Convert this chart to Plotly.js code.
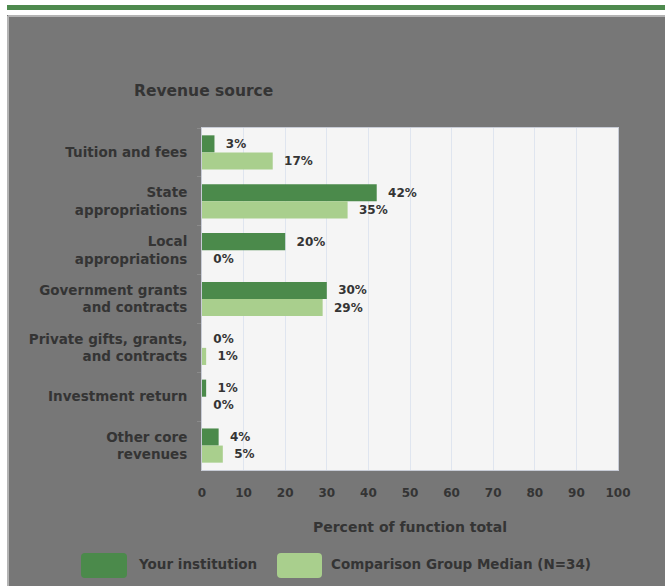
<!DOCTYPE html>
<html>
<head>
<meta charset="utf-8">
<script src="https://cdn.plot.ly/plotly-3.0.1.min.js"></script>
<style>html,body{margin:0;padding:0;background:#fff;}#chart{width:665px;height:586px;}</style>
</head>
<body>
<div id="chart"></div>
<script>
// ---- data ----
const categories = [
  "Tuition and fees",
  "State<br>appropriations",
  "Local<br>appropriations",
  "Government grants<br>and contracts",
  "Private gifts, grants,<br>and contracts",
  "Investment return",
  "Other core<br>revenues"
];
const yourInstitution = [3, 42, 20, 30, 0, 1, 4];
const comparisonMedian = [17, 35, 0, 29, 1, 0, 5];
const seriesNames = ["Your institution", "Comparison Group Median (N=34)"];
const xTickVals = [0, 10, 20, 30, 40, 50, 60, 70, 80, 90, 100];
const chartTitle = "Revenue source";
const xAxisTitle = "Percent of function total";

// ---- layout geometry ----
const W = 665, H = 586, L = 202, R = 47, T = 128, B = 116;
const PW = W - L - R, PH = H - T - B;
const px = v => (v - L) / PW;
const py = v => (H - B - v) / PH;

const DARK = "#4b8a4b", LIGHT = "#a9cf8d", TXT = "#343434";
const FONT = "DejaVu Sans";

const mk = (vals, name, color) => ({
  type: "bar", orientation: "h",
  x: vals, y: categories, name: name,
  marker: {color: color},
  text: vals.map(v => "  " + v + "%"),
  textposition: "outside",
  textfont: {family: FONT, size: 12, color: TXT, weight: "bold"},
  constraintext: "none",
  cliponaxis: false,
  hoverinfo: "x+name"
});

const data = [
  mk(yourInstitution, seriesNames[0], DARK),
  mk(comparisonMedian, seriesNames[1], LIGHT)
];

function roundRect(x0, y0, x1, y1, r) {
  const X = v => px(v), Y = v => py(v);
  return `M ${X(x0 + r)},${Y(y0)} L ${X(x1 - r)},${Y(y0)} Q ${X(x1)},${Y(y0)} ${X(x1)},${Y(y0 + r)} ` +
         `L ${X(x1)},${Y(y1 - r)} Q ${X(x1)},${Y(y1)} ${X(x1 - r)},${Y(y1)} L ${X(x0 + r)},${Y(y1)} ` +
         `Q ${X(x0)},${Y(y1)} ${X(x0)},${Y(y1 - r)} L ${X(x0)},${Y(y0 + r)} Q ${X(x0)},${Y(y0)} ${X(x0 + r)},${Y(y0)} Z`;
}

const shapes = [
  {type: "rect", xref: "paper", yref: "paper", x0: px(0), x1: px(7), y0: py(0), y1: py(H), fillcolor: "#ffffff", line: {width: 0}, layer: "below"},
  {type: "rect", xref: "paper", yref: "paper", x0: px(0), x1: px(W), y0: py(0), y1: py(15), fillcolor: "#ffffff", line: {width: 0}, layer: "below"},
  {type: "rect", xref: "paper", yref: "paper", x0: px(7), x1: px(W), y0: py(5), y1: py(10), fillcolor: "#4e8a4e", line: {width: 0}, layer: "below"},
  {type: "line", xref: "paper", yref: "paper", x0: px(8), x1: px(W), y0: py(16), y1: py(16), line: {color: "#b4b4b4", width: 2}, layer: "below"},
  {type: "line", xref: "paper", yref: "paper", x0: px(8), x1: px(8), y0: py(16), y1: py(H), line: {color: "#b4b4b4", width: 2}, layer: "below"},
  // legend swatches
  {type: "path", xref: "paper", yref: "paper", layer: "above", fillcolor: DARK, line: {width: 0},
   path: roundRect(81, 553, 127, 578, 4)},
  {type: "path", xref: "paper", yref: "paper", layer: "above", fillcolor: LIGHT, line: {width: 0},
   path: roundRect(277, 553, 322, 578, 4)}
];

const annotations = [
  {xref: "paper", yref: "paper", x: px(132), y: py(91), xanchor: "left", yanchor: "middle",
   text: chartTitle, showarrow: false, font: {family: FONT, size: 15.5, color: TXT, weight: "bold"}},
  {xref: "paper", yref: "paper", x: px(136), y: py(564), xanchor: "left", yanchor: "middle",
   text: seriesNames[0], showarrow: false, font: {family: FONT, size: 13.5, color: TXT, weight: "bold"}},
  {xref: "paper", yref: "paper", x: px(329), y: py(564), xanchor: "left", yanchor: "middle",
   text: seriesNames[1], showarrow: false, font: {family: FONT, size: 13.5, color: TXT, weight: "bold"}}
];

const layout = {
  width: W, height: H,
  margin: {l: L, r: R, t: T, b: B, pad: 0},
  paper_bgcolor: "#777777",
  plot_bgcolor: "#f5f5f5",
  barmode: "group", bargap: 0.3, bargroupgap: 0,
  showlegend: false,
  font: {family: FONT, color: TXT},
  xaxis: {
    range: [0, 100], tickvals: xTickVals, fixedrange: true,
    showgrid: true, gridcolor: "#dfe5ef", gridwidth: 1,
    zeroline: false, showline: true, linecolor: "#c8ccd6", linewidth: 1, mirror: true,
    ticks: "", ticklabelstandoff: 12,
    tickfont: {family: FONT, size: 12, color: TXT, weight: "bold"},
    title: {text: xAxisTitle, standoff: 22, font: {family: FONT, size: 14, color: TXT, weight: "bold"}}
  },
  yaxis: {
    type: "category", autorange: "reversed", fixedrange: true,
    showgrid: false, zeroline: false, showline: true, linecolor: "#c8ccd6", linewidth: 1, mirror: true,
    ticks: "outside", tickson: "boundaries", ticklen: 4, tickcolor: "#8a8a8a",
    ticklabelstandoff: 11,
    tickfont: {family: FONT, size: 13.5, color: TXT, weight: "bold"}
  },
  shapes: shapes,
  annotations: annotations
};

Plotly.newPlot("chart", data, layout, {displayModeBar: false, staticPlot: true});
</script>
</body>
</html>
